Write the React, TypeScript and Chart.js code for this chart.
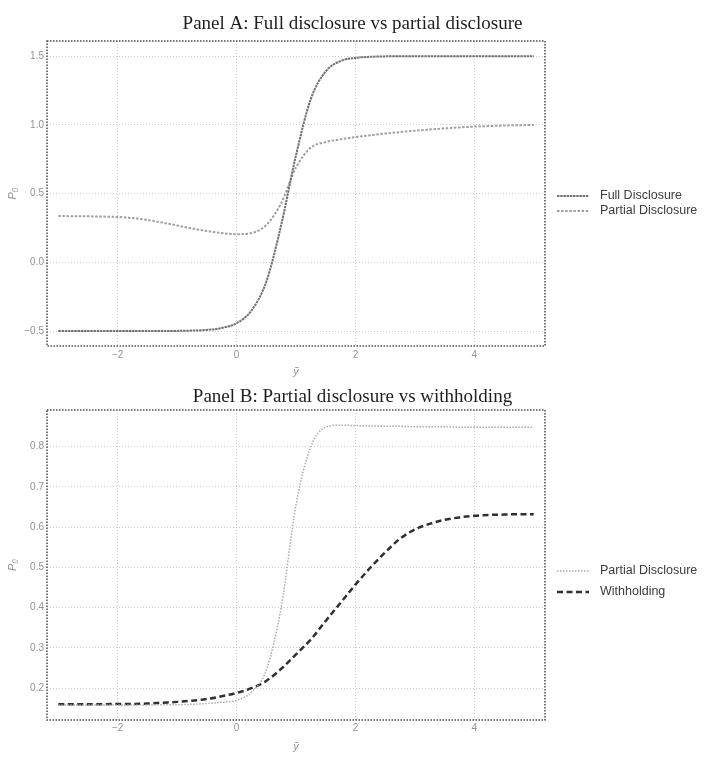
import React, { useEffect, useRef } from "react";
import { Chart, registerables } from "chart.js";

Chart.register(...registerables);

// ---------- data ----------
const xValues = [
  -3, -2.75, -2.5, -2.25, -2, -1.75, -1.5, -1.25, -1, -0.75, -0.5, -0.25,
  0, 0.25, 0.5, 0.75, 1, 1.25, 1.5, 1.75, 2, 2.25, 2.5, 2.75,
  3, 3.25, 3.5, 3.75, 4, 4.25, 4.5, 4.75, 5,
];

// Panel A
const fullDisclosureA = [
  -0.5, -0.5, -0.5, -0.5, -0.5, -0.5, -0.5, -0.5, -0.499, -0.497, -0.492, -0.478,
  -0.443, -0.351, -0.141, 0.27, 0.78, 1.19, 1.39, 1.465, 1.488, 1.496, 1.499, 1.5,
  1.5, 1.5, 1.5, 1.5, 1.5, 1.5, 1.5, 1.5, 1.5,
];
const partialDisclosureA = [
  0.337, 0.336, 0.335, 0.333, 0.33, 0.322, 0.308, 0.29, 0.268, 0.247, 0.228, 0.213,
  0.205, 0.213, 0.272, 0.43, 0.69, 0.835, 0.875, 0.895, 0.912, 0.925, 0.937, 0.948,
  0.958, 0.967, 0.975, 0.982, 0.988, 0.992, 0.996, 0.998, 1.0,
];

// Panel B
const partialDisclosureB = [
  0.158, 0.158, 0.158, 0.158, 0.158, 0.158, 0.158, 0.159, 0.159, 0.16, 0.162, 0.165,
  0.17, 0.19, 0.245, 0.4, 0.655, 0.8, 0.848, 0.853, 0.852, 0.851, 0.85, 0.85,
  0.849, 0.849, 0.849, 0.848, 0.848, 0.848, 0.848, 0.848, 0.848,
];
const withholdingB = [
  0.16, 0.16, 0.16, 0.16, 0.161, 0.161, 0.162, 0.164, 0.166, 0.169, 0.173, 0.18,
  0.188, 0.2, 0.218, 0.248, 0.284, 0.321, 0.367, 0.412, 0.457, 0.499, 0.537, 0.571,
  0.594, 0.608, 0.618, 0.624, 0.628, 0.63, 0.631, 0.632, 0.632,
];

const xTickValues = [-2, 0, 2, 4];
const yTickValuesA = [-0.5, 0, 0.5, 1.0, 1.5];
const yTickValuesB = [0.2, 0.3, 0.4, 0.5, 0.6, 0.7, 0.8];

const titleA = "Panel A: Full disclosure vs partial disclosure";
const titleB = "Panel B: Partial disclosure vs withholding";
const labelsA = ["Full Disclosure", "Partial Disclosure"];
const labelsB = ["Partial Disclosure", "Withholding"];
const xAxisTitle = "ỹ";
const yAxisTitle = "P₀";

// ---------- helpers ----------
const fmt = (v: number, digits: number) => {
  const s = digits > 0 ? v.toFixed(digits) : String(v);
  return s.replace("-", "\u2212");
};

const toPoints = (ys: number[]) => xValues.map((x, i) => ({ x, y: ys[i] }));

const framePlugin = {
  id: "panelFrame",
  afterDraw(chart: any) {
    const { ctx, chartArea: a } = chart;
    ctx.save();
    ctx.strokeStyle = "#4a4a4a";
    ctx.lineWidth = 1.5;
    ctx.setLineDash([1.5, 1.5]);
    ctx.strokeRect(a.left, a.top, a.right - a.left, a.bottom - a.top);
    ctx.restore();
  },
};

const titlePlugin = {
  id: "panelTitle",
  afterDraw(chart: any, _args: any, opts: any) {
    const { ctx } = chart;
    ctx.save();
    ctx.font = '19px "Liberation Serif"';
    ctx.fillStyle = "#1e1e1e";
    ctx.textAlign = "center";
    ctx.textBaseline = "middle";
    ctx.fillText(opts.text, chart.width / 2, opts.y);
    ctx.restore();
  },
};

const legendPlugin = {
  id: "panelLegend",
  afterDraw(chart: any, _args: any, opts: any) {
    const { ctx } = chart;
    ctx.save();
    chart.data.datasets.forEach((ds: any, i: number) => {
      const y = opts.ys[i];
      ctx.beginPath();
      ctx.setLineDash(ds.borderDash || []);
      ctx.strokeStyle = ds.borderColor;
      ctx.lineWidth = ds.borderWidth;
      ctx.moveTo(opts.x0, y);
      ctx.lineTo(opts.x1, y);
      ctx.stroke();
      ctx.setLineDash([]);
      ctx.fillStyle = "#3c3c3c";
      ctx.font = '12.5px "Liberation Sans"';
      ctx.textAlign = "left";
      ctx.textBaseline = "middle";
      ctx.fillText(ds.label, opts.textX, y);
    });
    ctx.restore();
  },
};

type PanelSpec = {
  height: number;
  top: number;
  title: string;
  titleY: number;
  areaTop: number;
  areaBottom: number;
  yMin: number;
  yMax: number;
  yTicks: number[];
  xTickPad: number;
  xTitlePad: number;
  legendYs: number[];
  datasets: any[];
};

const tickFont = { family: '"Liberation Sans"', size: 10 };
const tickColor = "#939393";

function buildConfig(spec: PanelSpec): any {
  return {
    type: "line",
    data: { datasets: spec.datasets },
    options: {
      animation: false,
      responsive: false,
      devicePixelRatio: 1,
      layout: { padding: { top: spec.areaTop, right: 160, bottom: 0, left: 0 } },
      elements: { point: { radius: 0 } },
      plugins: {
        legend: { display: false },
        tooltip: { enabled: false },
        title: { display: false },
        panelTitle: { text: spec.title, y: spec.titleY },
        panelLegend: { ys: spec.legendYs, x0: 557, x1: 589, textX: 600 },
      },
      scales: {
        x: {
          type: "linear",
          min: -3.19,
          max: 5.19,
          afterBuildTicks: (scale: any) => {
            scale.ticks = xTickValues.map((v) => ({ value: v }));
          },
          afterFit: (scale: any) => {
            scale.height = spec.height - spec.areaBottom;
          },
          ticks: {
            font: tickFont,
            color: tickColor,
            padding: spec.xTickPad,
            maxRotation: 0,
            callback: (v: any) => fmt(Number(v), 0),
          },
          grid: { color: "#cdcdcd", lineWidth: 1, drawTicks: false },
          border: { display: false, dash: [1, 2] },
          title: {
            display: true,
            text: xAxisTitle,
            color: tickColor,
            font: { family: '"Liberation Sans"', size: 11, style: "italic" },
            padding: { top: 0, bottom: spec.xTitlePad },
          },
        },
        y: {
          type: "linear",
          min: spec.yMin,
          max: spec.yMax,
          afterBuildTicks: (scale: any) => {
            scale.ticks = spec.yTicks.map((v) => ({ value: v }));
          },
          afterFit: (scale: any) => {
            scale.width = 47;
          },
          ticks: {
            font: tickFont,
            color: tickColor,
            padding: 3,
            callback: (v: any) => fmt(Number(v), 1),
          },
          grid: { color: "#cdcdcd", lineWidth: 1, drawTicks: false },
          border: { display: false, dash: [1, 2] },
          title: {
            display: true,
            text: yAxisTitle,
            color: tickColor,
            font: { family: '"Liberation Sans"', size: 11, style: "italic" },
            padding: { top: 6, bottom: 0 },
          },
        },
      },
    },
    plugins: [framePlugin, titlePlugin, legendPlugin],
  };
}

function Panel({ spec }: { spec: PanelSpec }) {
  const ref = useRef<HTMLCanvasElement | null>(null);
  useEffect(() => {
    if (!ref.current) return;
    const chart = new Chart(ref.current, buildConfig(spec));
    return () => chart.destroy();
  }, []);
  return (
    <canvas
      ref={ref}
      width={705}
      height={spec.height}
      style={{ position: "absolute", left: 0, top: spec.top, width: 705, height: spec.height, display: "block" }}
    />
  );
}

const specA: PanelSpec = {
  height: 380,
  top: 0,
  title: titleA,
  titleY: 24,
  areaTop: 41,
  areaBottom: 346,
  yMin: -0.609,
  yMax: 1.611,
  yTicks: yTickValuesA,
  xTickPad: 3,
  xTitlePad: 1.4,
  legendYs: [196, 211],
  datasets: [
    {
      label: labelsA[0],
      data: toPoints(fullDisclosureA),
      borderColor: "#727272",
      borderWidth: 2,
      borderDash: [2.5, 0.7],
      cubicInterpolationMode: "monotone",
      pointRadius: 0,
      fill: false,
    },
    {
      label: labelsA[1],
      data: toPoints(partialDisclosureA),
      borderColor: "#a0a0a0",
      borderWidth: 2,
      borderDash: [2.5, 1.6],
      cubicInterpolationMode: "monotone",
      pointRadius: 0,
      fill: false,
    },
  ],
};

const specB: PanelSpec = {
  height: 379,
  top: 380,
  title: titleB,
  titleY: 17,
  areaTop: 30,
  areaBottom: 340,
  yMin: 0.121,
  yMax: 0.8906,
  yTicks: yTickValuesB,
  xTickPad: 2,
  xTitlePad: 5.4,
  legendYs: [191, 212],
  datasets: [
    {
      label: labelsB[0],
      data: toPoints(partialDisclosureB),
      borderColor: "#ababab",
      borderWidth: 1.5,
      borderDash: [1.5, 1.5],
      cubicInterpolationMode: "monotone",
      pointRadius: 0,
      fill: false,
    },
    {
      label: labelsB[1],
      data: toPoints(withholdingB),
      borderColor: "#303030",
      borderWidth: 2.5,
      borderDash: [6, 3.5],
      cubicInterpolationMode: "monotone",
      pointRadius: 0,
      fill: false,
    },
  ],
};

export default function App() {
  return (
    <div style={{ position: "absolute", left: 0, top: 0, width: 705, height: 759, background: "#fff" }}>
      <Panel spec={specA} />
      <Panel spec={specB} />
    </div>
  );
}
